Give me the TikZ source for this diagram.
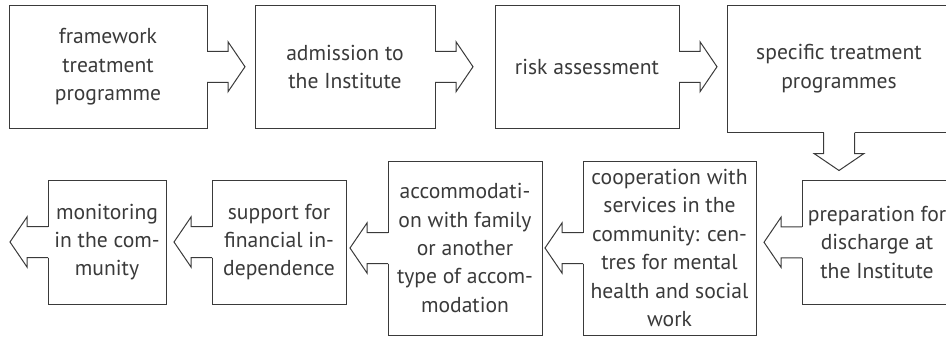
\documentclass[tikz,border=0pt]{standalone}
\usepackage{fontspec}
\setmainfont{PT Sans}
\usepackage{tikz}
\definecolor{inkgray}{HTML}{3A3A3A}
\newcommand{\blockarrow}[2]{%
  \begin{scope}[shift={(#1)}, rotate=#2]
    \fill[white] (-1,-15.5) rectangle (1,15.5);
    \draw (0,-15.5) -- (21,-15.5) -- (21,-25) -- (38,0) -- (21,25) -- (21,15.5) -- (0,15.5);
  \end{scope}}

\begin{document}
\begin{tikzpicture}[x=0.5pt, y=-0.5pt, line width=0.5pt, draw=inkgray,
  box/.style={draw, outer sep=0pt, inner sep=0pt, align=center, text=inkgray,
    font=\fontsize{10.8}{14.2}\selectfont}]
  \useasboundingbox (0,0) rectangle (946,337);
  \clip (0,0) rectangle (946,337);
  \node[box, minimum width=99pt, minimum height=61.75pt] (frame) at (108,66.75) {framework\\treatment\\programme};
  \node[box, minimum width=90pt, minimum height=61.75pt] (admit) at (345,66.75) {admission to\\the Institute};
  \node[box, minimum width=92pt, minimum height=61.75pt] (risk) at (587,66.75) {risk assessment};
  \node[box, minimum width=112pt, minimum height=63.75pt] (specific) at (839,68.75) {specific treatment\\programmes};
  \node[box, minimum width=75pt, minimum height=61.75pt] (prep) at (877,242.25) {preparation for\\discharge at\\the Institute};
  \node[box, minimum width=86.5pt, minimum height=87pt] (coop) at (669.5,248) {cooperation with\\services in the\\community: cen-\\tres for mental\\health and social\\work};
  \node[box, minimum width=77pt, minimum height=87pt] (accom) at (465,248) {accommodati-\\on with family\\or another\\type of accom-\\modation};
  \node[box, minimum width=67pt, minimum height=62pt] (support) at (279,242) {support for\\financial in-\\dependence};
  \node[box, minimum width=59pt, minimum height=62pt] (monitor) at (107,242) {monitoring\\in the com-\\munity};
  \blockarrow{frame.east}{0}
  \blockarrow{admit.east}{0}
  \blockarrow{risk.east}{0}
  \blockarrow{specific.south}{-90}
  \blockarrow{prep.west}{180}
  \blockarrow{coop.west}{180}
  \blockarrow{accom.west}{180}
  \blockarrow{support.west}{180}
  \blockarrow{monitor.west}{180}
\end{tikzpicture}
\end{document}
